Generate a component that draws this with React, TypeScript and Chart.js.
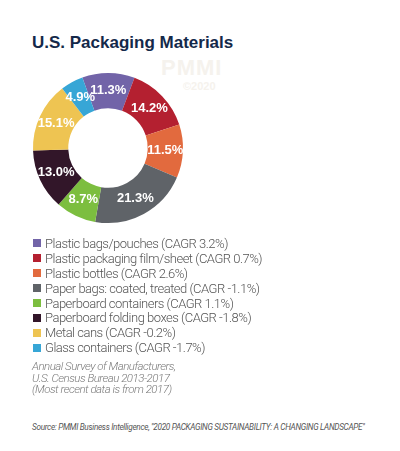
import React, { useEffect, useRef } from "react";
import { Chart, registerables } from "chart.js";

Chart.register(...registerables);

const categories = [
  "Plastic bags/pouches",
  "Plastic packaging film/sheet",
  "Plastic bottles",
  "Paper bags: coated, treated",
  "Paperboard containers",
  "Paperboard folding boxes",
  "Metal cans",
  "Glass containers",
];
const shares = [11.3, 14.2, 11.5, 21.3, 8.7, 13.0, 15.1, 4.9];
const cagr = ["3.2%", "0.7%", "2.6%", "-1.1%", "1.1%", "-1.8%", "-0.2%", "-1.7%"];
const colors = [
  "#7264a8",
  "#b42030",
  "#e26a3e",
  "#5f6368",
  "#7cbe3f",
  "#321629",
  "#eec452",
  "#37a6d6",
];
const noteLines = [
  "Annual Survey of Manufacturers,",
  "U.S. Census Bureau 2013-2017",
  "(Most recent data is from 2017)",
];
const sourceText =
  'Source: PMMI Business Intelligence, "2020 PACKAGING SUSTAINABILITY: A CHANGING LANDSCAPE"';

const sliceLabels = {
  id: "sliceLabels",
  afterDatasetsDraw(chart: any) {
    const ctx = chart.ctx;
    const meta = chart.getDatasetMeta(0);
    ctx.save();
    ctx.fillStyle = "#ffffff";
    ctx.font = "bold 13px 'Liberation Sans', Arial, sans-serif";
    ctx.textAlign = "center";
    ctx.textBaseline = "middle";
    meta.data.forEach((arc: any, i: number) => {
      const p = arc.tooltipPosition();
      ctx.fillText(shares[i].toFixed(1) + "%", p.x, p.y);
    });
    ctx.restore();
  },
};

export default function App() {
  const ref = useRef<HTMLCanvasElement>(null);
  useEffect(() => {
    if (!ref.current) return;
    const chart = new Chart(ref.current, {
      type: "doughnut",
      data: {
        labels: categories,
        datasets: [
          {
            data: shares,
            backgroundColor: colors,
            borderWidth: 0,
          },
        ],
      },
      options: {
        responsive: false,
        animation: false,
        radius: 75,
        cutout: "53%",
        rotation: -20,
        layout: { padding: 0 },
        plugins: {
          legend: { display: false },
          tooltip: { enabled: false },
        },
        events: [],
      } as any,
      plugins: [sliceLabels],
    });
    return () => chart.destroy();
  }, []);

  const font = "'Liberation Sans', Arial, sans-serif";
  return (
    <div
      style={{
        position: "absolute",
        left: 0,
        top: 0,
        width: 400,
        height: 451,
        background: "#ffffff",
        overflow: "hidden",
        fontFamily: font,
      }}
    >
      <div
        style={{
          position: "absolute",
          left: 161,
          top: 57,
          fontSize: 22,
          fontWeight: 900,
          color: "#f5f2ed",
          letterSpacing: 1,
          lineHeight: "22px",
        }}
      >
        PMMI
      </div>
      <div
        style={{
          position: "absolute",
          left: 183,
          top: 80,
          fontSize: 11,
          fontWeight: 700,
          color: "#f5f2ed",
          lineHeight: "12px",
        }}
      >
        ©2020
      </div>
      <div
        style={{
          position: "absolute",
          left: 32,
          top: 34,
          fontSize: 17,
          fontWeight: 700,
          color: "#14294a",
          lineHeight: "17px",
          whiteSpace: "nowrap",
        }}
      >
        U.S. Packaging Materials
      </div>
      <canvas
        ref={ref}
        width={200}
        height={200}
        style={{ position: "absolute", left: 7.5, top: 48, width: 200, height: 200 }}
      />
      <div style={{ position: "absolute", left: 33, top: 237 }}>
        {categories.map((c, i) => (
          <div
            key={c}
            style={{
              display: "flex",
              alignItems: "center",
              height: 14.9,
              whiteSpace: "nowrap",
            }}
          >
            <span
              style={{
                display: "inline-block",
                width: 8,
                height: 8,
                background: colors[i],
                marginRight: 4,
                position: "relative",
                top: -1,
              }}
            />
            <span
              style={{
                fontFamily: "Roboto, sans-serif",
                fontWeight: 300,
                fontSize: 13,
                letterSpacing: -0.5,
                color: "#555555",
                lineHeight: "14.9px",
              }}
            >
              {c} (CAGR {cagr[i]})
            </span>
          </div>
        ))}
      </div>
      <div
        style={{
          position: "absolute",
          left: 32,
          top: 361,
          fontFamily: "Roboto, sans-serif",
          fontWeight: 300,
          fontStyle: "italic",
          fontSize: 11.5,
          letterSpacing: -0.5,
          lineHeight: "11.7px",
          color: "#7a7a7a",
          whiteSpace: "nowrap",
        }}
      >
        {noteLines.map((l) => (
          <div key={l}>{l}</div>
        ))}
      </div>
      <div
        style={{
          position: "absolute",
          left: 32,
          top: 422,
          fontFamily: "Roboto, sans-serif",
          fontStyle: "italic",
          fontSize: 8.2,
          lineHeight: "10px",
          color: "#555555",
          whiteSpace: "nowrap",
          letterSpacing: -0.3,
        }}
      >
        {sourceText}
      </div>
    </div>
  );
}
